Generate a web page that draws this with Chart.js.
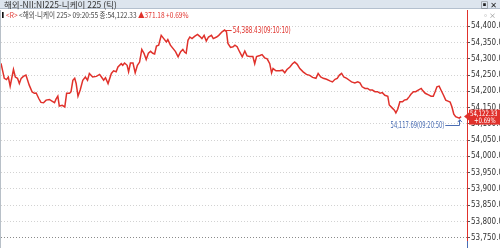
<!DOCTYPE html>
<html>
<head>
<meta charset="utf-8">
<script src="https://cdn.jsdelivr.net/npm/chart.js@4"></script>
<style>
  body { margin: 0; background: #fff; }
  #wrap { position: relative; width: 500px; height: 248px; overflow: hidden; font-family: "Noto Sans CJK KR", "DejaVu Sans", sans-serif; }
  #title { position: absolute; left: 0; top: 0; width: 500px; height: 9px; background: #dde5ee; border-bottom: 1px solid #b4c0ce;
           font-size: 8.5px; line-height: 9px; color: #333; padding-left: 4px; box-sizing: border-box; white-space: nowrap; }
  #title .btn { position: absolute; right: 3px; top: 0; font-size: 8px; color: #222; }
  #head { position: absolute; left: 2px; top: 10px; font-size: 8px; line-height: 10px; color: #444; white-space: nowrap;
          transform: scaleX(0.82); transform-origin: left center; }
  #head .r { color: #e0312b; }
  #head .bar { display: inline-block; width: 2px; height: 6px; background: #111; margin-right: 3px; }
  #mini { position: absolute; right: 4px; top: 10px; font-size: 7px; color: #888; }
</style>
</head>
<body>
<div id="wrap">
  <canvas id="c" width="500" height="248"></canvas>
  <div id="title">해외-NII:NI225-니케이 225 (틱)<span class="btn">▣ ✕</span></div>
  <div id="head"><span class="bar"></span><span class="r">&lt;R&gt;</span> &lt;해외-니케이 225&gt; 09:20:55 종:54,122.33 <span class="r">▲371.18 +0.69%</span></div>
  <div id="mini">▫×</div>
</div>
<script>
// seconds after 09:00:00 for each tick
const secs = [0,9,15,20,25,34,39,45,50,55,
  61,68,77,85,91,96,103,109,116,123,
  132,139,146,150,155,159,167,174,179,187,
  191,196,201,205,210,216,223,230,236,241,
  250,260,269,274,280,285,292,301,307,314,
  319,328,332,337,344,348,353,360,366,372,
  378,384,390,396,402,408,414,419,424,430,
  437,444,451,455,462,469,476,483,490,496,
  501,505,510,515,521,528,536,542,548,554,
  560,566,574,579,588,594,603,610,615,619,
  626,633,638,644,651,658,665,671,678,687,
  692,697,706,712,719,726,733,738,742,750,
  760,768,774,780,788,795,801,808,815,824,
  833,842,850,859,865,872,879,888,897,904,
  911,917,923,929,935,943,950,956,965,973,
  979,985,993,1000,1006,1013,1020,1027,1034,1040,
  1047,1055,1059,1066,1073,1077,1082,1088,1095,1100,
  1107,1113,1118,1125,1131,1138,1146,1149,1157,1166,
  1173,1179,1184,1189,1195,1200,1207,1213,1219,1225,
  1230,1235,1240,1250,1255];
const prices = [54286,54240,54236,54244,54216,54267,54244,54240,54224,54240,
  54246,54250,54219,54198,54194,54195,54178,54166,54165,54173,
  54175,54170,54165,54176,54185,54155,54157,54152,54194,54194,
  54199,54234,54240,54224,54185,54204,54234,54244,54234,54255,
  54244,54246,54252,54244,54234,54242,54224,54255,54263,54260,
  54275,54285,54280,54287,54280,54260,54287,54287,54257,54280,
  54290,54329,54317,54298,54317,54323,54317,54315,54339,54342,
  54372,54362,54352,54359,54342,54332,54322,54306,54322,54329,
  54320,54317,54357,54367,54362,54369,54375,54369,54362,54372,
  54355,54367,54372,54362,54367,54372,54383,54388.43,54383,54347,
  54335,54337,54342,54337,54321,54306,54324,54309,54307,54307,
  54285,54307,54310,54313,54303,54300,54285,54257,54270,54263,
  54263,54265,54257,54267,54275,54285,54290,54283,54270,54260,
  54252,54249,54243,54240,54255,54244,54240,54237,54232,54229,
  54237,54240,54250,54255,54244,54240,54234,54229,54226,54229,
  54226,54214,54209,54209,54204,54204,54199,54199,54194,54196,
  54188,54185,54158,54150,54142,54134,54145,54168,54168,54173,
  54175,54183,54191,54199,54199,54204,54209,54204,54194,54189,
  54185,54185,54199,54214,54216,54204,54188,54173,54170,54167,
  54152,54130,54122,54117.69,54122.33];
const yTicks = [54400,54350,54300,54250,54200,54150,54100,54050,54000,53950,53900,53850,53800,53750];
const changePct = "+0.69%";

const RED = "#e0312b", BLUE = "#4a6db3";
const NARROW = "'Liberation Sans Narrow', 'DejaVu Sans Condensed', sans-serif";

function fmt(v) {
  return v.toLocaleString("en-US", { minimumFractionDigits: 2, maximumFractionDigits: 2 });
}
function hms(s) {
  const t = 9 * 3600 + s;
  const p = n => String(n).padStart(2, "0");
  return p(Math.floor(t / 3600)) + ":" + p(Math.floor(t / 60) % 60) + ":" + p(t % 60);
}
// squeezed text, like the narrow terminal font
function squeeze(ctx, txt, x, y, sx) {
  ctx.save();
  ctx.translate(x, y);
  ctx.scale(sx, 1);
  ctx.fillText(txt, 0, 0);
  ctx.restore();
}

const marks = {
  id: "marks",
  afterDraw(chart) {
    const ctx = chart.ctx, xs = chart.scales.x, ys = chart.scales.y, area = chart.chartArea;
    let iMax = 0, iMin = 0;
    prices.forEach((v, i) => { if (v > prices[iMax]) iMax = i; if (v < prices[iMin]) iMin = i; });
    ctx.save();
    ctx.font = "8px " + NARROW;
    ctx.textBaseline = "middle";

    // high
    let px = xs.getPixelForValue(secs[iMax]), py = ys.getPixelForValue(prices[iMax]);
    ctx.strokeStyle = RED; ctx.lineWidth = 1;
    ctx.beginPath(); ctx.moveTo(px + 1, py + 0.5); ctx.lineTo(px + 7, py + 0.5); ctx.stroke();
    ctx.fillStyle = RED; ctx.textAlign = "left";
    squeeze(ctx, fmt(prices[iMax]) + "(" + hms(secs[iMax]) + ")", px + 8, py + 1, 0.78);

    // low
    px = xs.getPixelForValue(secs[iMin]); py = ys.getPixelForValue(prices[iMin]);
    const ly = Math.round(py + 7) + 0.5;
    ctx.strokeStyle = BLUE;
    ctx.beginPath(); ctx.moveTo(px - 14, ly); ctx.lineTo(Math.round(px) + 0.5, ly); ctx.lineTo(Math.round(px) + 0.5, py + 2); ctx.stroke();
    ctx.beginPath(); ctx.moveTo(px - 1.5, py + 4); ctx.lineTo(px + 0.5, py + 1.5); ctx.lineTo(px + 2.5, py + 4); ctx.stroke();
    ctx.fillStyle = BLUE; ctx.textAlign = "right";
    squeeze(ctx, fmt(prices[iMin]) + "(" + hms(secs[iMin]) + ")", px - 15, ly, 0.72);

    // current price box
    const last = prices[prices.length - 1];
    const by = ys.getPixelForValue(last), bx = area.right + 2;
    ctx.fillStyle = RED;
    ctx.fillRect(bx, by - 7, 500 - bx, 15);
    ctx.beginPath(); ctx.moveTo(area.right - 3, by); ctx.lineTo(bx, by - 4); ctx.lineTo(bx, by + 4); ctx.closePath(); ctx.fill();
    ctx.fillStyle = "#fff"; ctx.textAlign = "left"; ctx.font = "7.5px " + NARROW;
    squeeze(ctx, fmt(last), bx + 1, by - 3, 0.8);
    squeeze(ctx, changePct, bx + 5, by + 4, 0.8);

    // frame bits
    ctx.strokeStyle = "#b8c0c8";
    ctx.beginPath(); ctx.moveTo(0.5, area.top); ctx.lineTo(0.5, 248); ctx.stroke();
    ctx.strokeStyle = BLUE;
    ctx.beginPath(); ctx.moveTo(area.right + 0.5, area.bottom); ctx.lineTo(area.right + 0.5, 248); ctx.stroke();
    ctx.restore();
  }
};

new Chart(document.getElementById("c"), {
  type: "line",
  data: {
    datasets: [{
      data: secs.map((s, i) => ({ x: s, y: prices[i] })),
      borderColor: RED,
      borderWidth: 1.5,
      pointRadius: 0,
      tension: 0
    }]
  },
  options: {
    responsive: false,
    animation: false,
    layout: { padding: { top: 10, left: 1, right: 0, bottom: 7 } },
    plugins: { legend: { display: false }, tooltip: { enabled: false } },
    scales: {
      x: { type: "linear", display: false, min: 0, max: 1271 },
      y: {
        position: "right",
        min: 53740,
        max: 54450,
        afterBuildTicks: s => { s.ticks = yTicks.map(v => ({ value: v })); },
        afterFit: s => { s.width = 33; },
        ticks: {
          color: "#333",
          padding: 1,
          font: { size: 8, family: NARROW },
          callback: v => fmt(v)
        },
        grid: {
          color: c => (c.tick && c.tick.value === 53750 ? "#8a8a8a" : "#d2d2d2"),
          tickLength: 3,
          tickColor: "#555"
        },
        border: { color: RED, width: 1, dash: [1, 2] }
      }
    }
  },
  plugins: [marks]
});
</script>
</body>
</html>
